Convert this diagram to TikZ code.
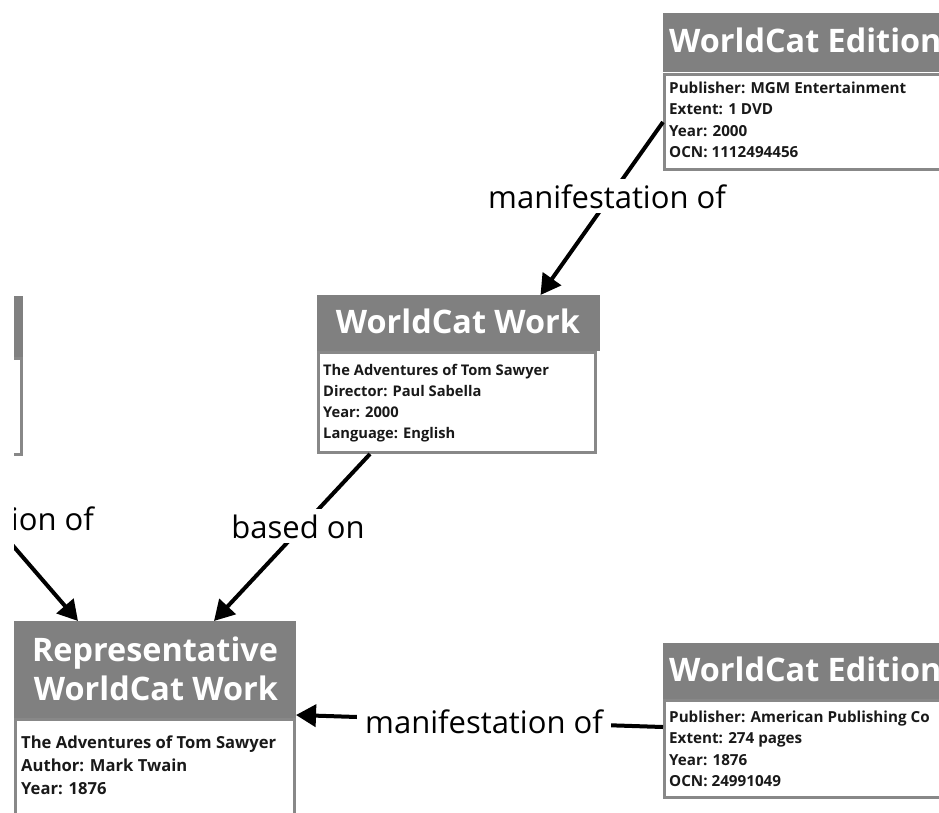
\documentclass[tikz,border=0pt]{standalone}
\usepackage{fontspec}
\setmainfont{Open Sans}
\usetikzlibrary{arrows.meta,calc}
\definecolor{hdrgray}{RGB}{128,128,128}
\definecolor{bordergray}{RGB}{136,136,136}
\definecolor{txtdark}{RGB}{25,25,25}
\newcommand\ttlfont{\bfseries\fontsize{32.4}{40}\selectfont}
\newcommand\infofont{\bfseries\fontsize{15.2}{21.4}\selectfont}
\newcommand\workinfofont{\bfseries\fontsize{14.7}{21}\selectfont}
\newcommand\repinfofont{\bfseries\fontsize{16.6}{23}\selectfont}
\newcommand\lblfont{\fontsize{31}{37}\selectfont}
\tikzset{
  hdr/.style={fill=hdrgray, draw=none, inner sep=0pt, outer sep=0pt, anchor=north west},
  bodybox/.style={fill=white, draw=bordergray, line width=3pt, inner sep=0pt, anchor=north west},
  ttl/.style={text=white, font=\ttlfont, inner sep=0pt, anchor=base},
  info/.style={text=txtdark, font=\infofont, align=left, inner sep=0pt, anchor=north west},
  lbl/.style={fill=white, text=black, font=\lblfont, inner xsep=8pt, inner ysep=5pt, anchor=base},
  conn/.style={line width=4pt, draw=black, -{Triangle[length=20pt,width=22pt]}},
}
\begin{document}
\begin{tikzpicture}[x=1pt,y=-1pt]
\useasboundingbox[fill=white] (0,0) rectangle (939,812);
\clip (14,0) rectangle (939,812);

% top edition
\node[bodybox, minimum width=300pt, minimum height=95pt] (e1b) at (663,73) {};
\node[hdr, minimum width=320pt, minimum height=59pt] (e1h) at (663,13) {};
\node[ttl, anchor=base west] (e1t) at (669,52) {WorldCat Edition};
\node[info] (e1i) at (669,81.8) {Publisher: MGM Entertainment\\Extent: 1 DVD\\Year: 2000\\OCN: 1112494456};

% WorldCat Work
\node[bodybox, minimum width=277pt, minimum height=100pt] (wwb) at (317,351) {};
\node[hdr, minimum width=283pt, minimum height=56pt] (wwh) at (317,295) {};
\node[ttl] (wwt) at (458,333) {WorldCat Work};
\node[info, font=\workinfofont] (wwi) at (323,364) {The Adventures of Tom Sawyer\\Director: Paul Sabella\\Year: 2000\\Language: English};

% left partial box
\node[bodybox, minimum width=96pt, minimum height=96pt] (lpb) at (-76,357) {};
\node[hdr, minimum width=99pt, minimum height=61pt] (lph) at (-76,296) {};

% Representative WorldCat Work
\node[bodybox, minimum width=279pt, minimum height=119pt] (repb) at (14,718) {};
\node[hdr, minimum width=282pt, minimum height=97pt] (reph) at (14,621) {};
\node[ttl] (rept1) at (155,661) {Representative};
\node[ttl] (rept2) at (156,700) {WorldCat Work};
\node[info, font=\repinfofont] (repi) at (21,735.4) {The Adventures of Tom Sawyer\\Author: Mark Twain\\Year: 1876};

% bottom edition
\node[bodybox, minimum width=300pt, minimum height=97pt] (e2b) at (663,699) {};
\node[hdr, minimum width=320pt, minimum height=56pt] (e2h) at (663,643) {};
\node[ttl, anchor=base west] (e2t) at (669,681) {WorldCat Edition};
\node[info] (e2i) at (669,710.5) {Publisher: American Publishing Co\\Extent: 274 pages\\Year: 1876\\OCN: 24991049};

% connectors
\draw[conn] (e1b.west) -- ([xshift=82pt]wwh.north);
\draw[conn] ([xshift=-87pt]wwb.south) -- ([xshift=59pt]reph.north);
\draw[conn] ([yshift=-28pt]e2h.south west) -- ([yshift=3pt]reph.south east);
\draw[conn] ([xshift=-38pt]lpb.south) -- ([xshift=-77pt]reph.north);

% labels
\node[lbl] (l1) at (607,208) {manifestation of};
\node[lbl] (l2) at (298,538) {based on};
\node[lbl] (l3) at (484,733) {manifestation of};
\node[lbl] (l4) at (-25,530) {manifestation of};
\end{tikzpicture}
\end{document}
